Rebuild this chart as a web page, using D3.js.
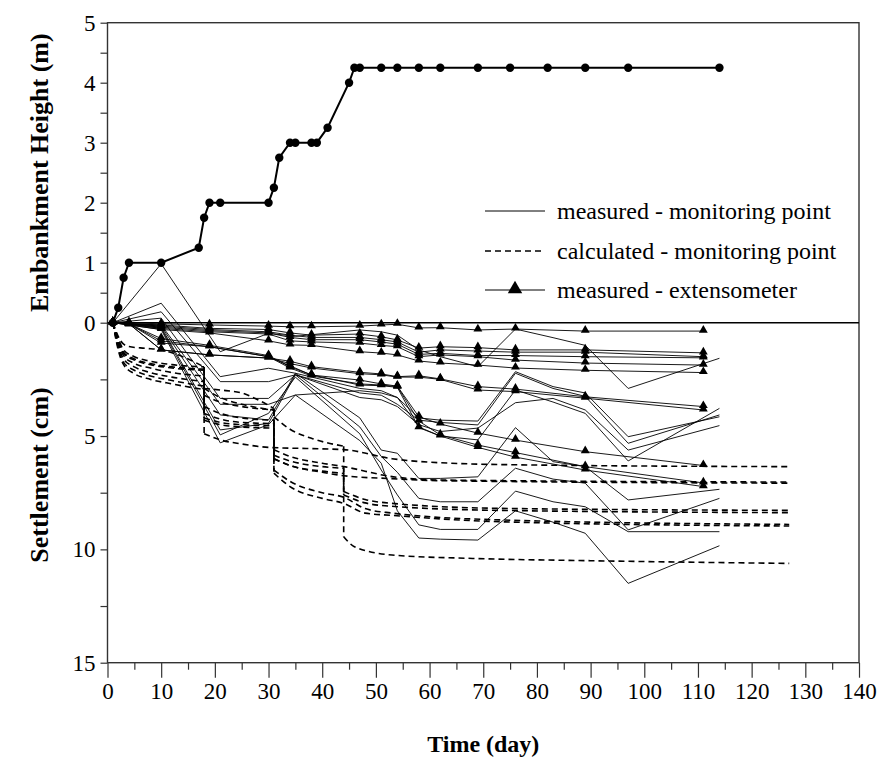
<!DOCTYPE html>
<html>
<head>
<meta charset="utf-8">
<script src="https://d3js.org/d3.v7.min.js"></script>
<style>
  body { margin: 0; background: #fff; }
</style>
</head>
<body>
<script>
// ---- embankment height (m) ----
const fillDays   = [1,2,3,4,10,17,18,19,21,30,31,32,34,35,38,39,41,45,46,47,51,54,58,62,69,75,82,89,97,114];
const fillHeight = [0,0.25,0.75,1,1,1.25,1.75,2,2,2,2.25,2.75,3,3,3,3,3.25,4,4.25,4.25,4.25,4.25,4.25,4.25,4.25,4.25,4.25,4.25,4.25,4.25];

// ---- measured settlement at monitoring points (cm) ----
const pointDays = [1,10,21,30,35,47,51,54,58,62,69,76,83,89,97,114];
const pointA  = [0,-2.6,1.28,0.47,0.6,0.32,0.4,0.55,1.2,1.5,1.94,0.28,0.66,1.0,2.9,1.57];
const pointM1 = [0,-0.86,2.38,2.01,2.23,2.9,3.0,3.3,4.2,4.3,4.34,2.16,2.82,3.1,5.03,4.15];
const pointM2 = [0,-0.48,2.6,2.6,2.3,3.1,3.2,3.6,4.3,4.4,4.51,2.23,2.9,3.25,5.32,4.07];
const pointM3 = [0,-0.2,3.34,3.34,2.3,3.3,3.4,3.7,4.5,4.8,4.65,3.53,3.34,3.85,5.62,4.54];
const pointM4 = [0,0.1,3.6,3.6,3.19,3.0,3.1,3.3,4.6,5.0,5.17,2.97,3.5,4.0,6.1,3.78];
const pointB1 = [0,0.15,4.07,4.29,2.23,4.2,5.62,5.76,6.87,6.87,6.8,4.63,6.13,6.35,7.82,7.35];
const pointB2 = [0,0.2,4.73,4.44,2.3,4.6,5.9,6.6,7.75,7.9,7.9,6.42,6.9,7.08,9.14,7.75];
const pointB3 = [0,0.25,4.95,4.0,2.4,4.9,6.5,7.6,8.92,9.12,9.12,7.43,7.9,8.12,9.22,9.22];
const pointB4 = [0,0.3,5.3,4.5,3.19,5.2,6.2,8.3,9.5,9.55,9.59,8.3,8.8,9.29,11.5,9.84];
const measured = [pointA, pointM1, pointM2, pointM3, pointM4, pointB1, pointB2, pointB3, pointB4];

// ---- measured settlement by extensometer (cm) ----
const extDays = [1,4,10,19,30,34,38,47,51,54,58,62,69,76,89,111];
const ext1  = [0,0,0.05,0.1,0.15,0.18,0.18,0.15,0.1,0.07,0.23,0.22,0.32,0.28,0.37,0.37];
const ext2  = [0,0.05,0.1,0.25,0.3,0.45,0.55,0.5,0.62,0.76,1.12,1.06,1.1,1.2,1.2,1.33];
const ext3  = [0,0.05,0.15,0.3,0.4,0.55,0.65,0.65,0.75,0.85,1.3,1.2,1.25,1.3,1.3,1.5];
const ext4  = [0,0.05,0.2,0.35,0.45,0.65,0.75,0.75,0.85,0.95,1.4,1.35,1.45,1.45,1.5,1.55];
const ext5  = [0,0.05,0.25,0.4,0.5,0.8,0.85,0.9,1.0,1.06,1.5,1.42,1.5,1.65,1.78,1.87];
const ext6  = [0,0.1,0.3,0.45,0.8,0.98,1.0,1.28,1.34,1.42,1.69,1.78,1.87,2.0,2.1,2.2];
const ext7  = [0,0.05,1.2,1.42,1.56,1.7,1.94,2.19,2.26,2.38,2.34,2.48,2.82,2.93,3.27,3.7];
const ext8  = [0,0.05,1.2,1.42,1.56,1.8,2.0,2.25,2.3,2.4,2.4,2.5,2.97,3.04,3.33,3.85];
const ext9  = [0,0.05,0.9,1.06,1.5,1.9,2.31,2.53,2.7,2.8,4.15,4.47,4.87,5.18,5.69,6.3];
const ext10 = [0,0.05,0.8,1.06,1.5,2.0,2.35,2.7,2.75,2.82,4.34,4.95,5.4,5.73,6.35,7.07];
const ext11 = [0,0.05,0.7,1.0,1.45,1.95,2.3,2.75,2.78,2.85,4.63,5.0,5.5,5.93,6.5,7.23];
const extensometers = [ext1, ext2, ext3, ext4, ext5, ext6, ext7, ext8, ext9, ext10, ext11];

// ---- calculated settlement (cm), pieces split at the load steps: [day, cm] ----
const calc1 = [[[1,0],[2,0.6],[3,0.95],[4,1.05],[7,1.13],[10,1.2],[14,1.5],[18,1.95]],
               [[18,4.9],[21,5.17],[25,5.35],[30,5.5],[37,5.55],[44,5.6],[53,6.0],[64,6.2],[80,6.28],[127,6.35]]];
const calc2 = [[[1,0],[2,0.7],[3,1.2],[5,1.5],[8,1.7],[12,1.85],[18,1.95]],
               [[18,2.9],[21,2.97],[25,3.1],[28,3.4],[31,3.78]],
               [[31,5.6],[34,5.9],[40,6.2],[44,6.35],[53,6.79],[62,6.94],[127,7.03]]];
const calc3 = [[[1,0],[2,0.8],[3,1.35],[5,1.65],[8,1.85],[12,2.0],[18,2.1]],
               [[18,3.2],[21,3.5],[25,3.7],[31,3.85]],
               [[31,6.0],[34,6.3],[40,6.6],[44,6.75],[53,6.88],[62,6.97],[127,7.08]]];
const calc4 = [[[1,0],[2,0.9],[3,1.45],[5,1.8],[8,2.0],[12,2.2],[18,2.35]],
               [[18,3.7],[21,4.0],[25,4.2],[31,4.3]],
               [[31,5.85],[34,6.1],[40,6.35],[44,6.42]],
               [[44,7.45],[48,7.8],[53,7.97],[73,8.19],[127,8.28]]];
const calc5 = [[[1,0],[2,1.0],[3,1.6],[5,1.95],[8,2.2],[12,2.4],[18,2.6]],
               [[18,4.0],[21,4.25],[25,4.4],[31,4.45]],
               [[31,6.0],[34,6.3],[40,6.55],[44,6.65]],
               [[44,7.6],[48,7.95],[53,8.1],[73,8.28],[127,8.38]]];
const calc6 = [[[1,0],[2,1.1],[3,1.75],[5,2.1],[8,2.35],[12,2.55],[18,2.8]],
               [[18,4.2],[21,4.4],[25,4.5],[31,4.55]],
               [[31,6.64],[34,7.23],[40,7.75],[44,7.97],[48,8.4],[53,8.5],[73,8.78],[127,8.97]]];
const calc7 = [[[1,0],[2,1.2],[3,1.85],[5,2.25],[8,2.5],[12,2.7],[18,2.95]],
               [[18,4.3],[21,4.5],[25,4.6],[31,4.65]],
               [[31,6.5],[34,7.0],[40,7.5],[44,7.7],[48,8.2],[53,8.4],[73,8.7],[127,8.9]]];
const calc8 = [[[1,0],[2,0.8],[3,1.3],[5,1.6],[8,1.8],[12,1.95],[18,2.05]],
               [[18,2.9],[21,3.3],[25,3.6],[31,3.85]],
               [[31,4.15],[34,4.7],[38,5.1],[44,5.45]],
               [[44,9.44],[46,9.88],[53,10.25],[68,10.4],[90,10.5],[127,10.62]]];
const calculated = [calc1, calc2, calc3, calc4, calc5, calc6, calc7, calc8];

const legendLabels = ["measured - monitoring point", "calculated - monitoring point", "measured - extensometer"];

// ---- layout ----
const width = 882, height = 763;
const plotL = 107.5, plotR = 859, plotT = 22.7, zeroY = 322.7, plotB = 662.7;
const serif = '"Liberation Serif", "Times New Roman", Times, serif';

const svg = d3.select("body").append("svg").attr("width", width).attr("height", height)
  .style("font-family", serif);

const x = d3.scaleLinear().domain([0, 140]).range([plotL, plotR]);
const yH = d3.scaleLinear().domain([0, 5]).range([zeroY, plotT]);    // embankment (m)
const yS = d3.scaleLinear().domain([0, 15]).range([zeroY, plotB]);   // settlement (cm)

const intFmt = d => Number.isInteger(d) ? d : "";

// upper y axis
const axH = svg.append("g").attr("transform", `translate(${plotL},0)`)
  .call(d3.axisLeft(yH).tickValues(d3.range(0, 5.01, 0.5)).tickSize(7).tickPadding(5).tickFormat(intFmt));
// lower y axis
const axS = svg.append("g").attr("transform", `translate(${plotL},0)`)
  .call(d3.axisLeft(yS).tickValues([2.5, 5, 7.5, 10, 12.5, 15]).tickSize(7).tickPadding(5).tickFormat(intFmt));
// bottom axis, major + minor ticks
const axX = svg.append("g").attr("transform", `translate(0,${plotB})`)
  .call(d3.axisBottom(x).tickValues(d3.range(0, 141, 10)).tickSize(15).tickPadding(5));
const axXm = svg.append("g").attr("transform", `translate(0,${plotB})`)
  .call(d3.axisBottom(x).tickValues(d3.range(5, 140, 10)).tickSize(7).tickFormat(""));

[axH, axS, axX, axXm].forEach(g => {
  g.attr("font-family", null).attr("font-size", null);
  g.select(".domain").remove();
  g.selectAll("line").attr("stroke", "#333").attr("stroke-width", 1.2);
  g.selectAll("text").style("font-family", serif).style("font-size", "23px");
});

// frame and zero line
svg.append("rect").attr("x", plotL).attr("y", plotT)
  .attr("width", plotR - plotL).attr("height", plotB - plotT)
  .attr("fill", "none").attr("stroke", "#333").attr("stroke-width", 1.4);
svg.append("line").attr("x1", plotL).attr("x2", plotR).attr("y1", zeroY).attr("y2", zeroY)
  .attr("stroke", "#000").attr("stroke-width", 1.4);

// calculated (dashed)
const pieceLine = d3.line().x(d => x(d[0])).y(d => yS(d[1])).curve(d3.curveMonotoneX);
const stepLine = d3.line().x(d => x(d[0])).y(d => yS(d[1]));
calculated.forEach(pieces => {
  pieces.forEach((p, i) => {
    svg.append("path").attr("d", pieceLine(p))
      .attr("fill", "none").attr("stroke", "#000").attr("stroke-width", 1.6).attr("stroke-dasharray", "6,4");
    if (i > 0) {
      const prev = pieces[i - 1];
      svg.append("path").attr("d", stepLine([prev[prev.length - 1], p[0]]))
        .attr("fill", "none").attr("stroke", "#000").attr("stroke-width", 1.6).attr("stroke-dasharray", "6,4");
    }
  });
});

// measured at monitoring points (thin solid)
const mLine = d3.line().x((d, i) => x(pointDays[i])).y(d => yS(d));
measured.forEach(s => {
  svg.append("path").attr("d", mLine(s)).attr("fill", "none").attr("stroke", "#000").attr("stroke-width", 0.9);
});

// extensometers (solid with triangles)
const eLine = d3.line().x((d, i) => x(extDays[i])).y(d => yS(d));
const tri = d3.symbol().type(d3.symbolTriangle).size(34);
extensometers.forEach(s => {
  svg.append("path").attr("d", eLine(s)).attr("fill", "none").attr("stroke", "#000").attr("stroke-width", 0.9);
  svg.append("g").selectAll("path").data(s).join("path")
    .attr("d", tri)
    .attr("transform", (d, i) => `translate(${x(extDays[i])},${yS(d) - 1})`)
    .attr("fill", "#000");
});

// embankment height
const hLine = d3.line().x((d, i) => x(fillDays[i])).y(d => yH(d));
svg.append("path").attr("d", hLine(fillHeight)).attr("fill", "none").attr("stroke", "#000").attr("stroke-width", 2);
svg.append("g").selectAll("circle").data(fillHeight).join("circle")
  .attr("cx", (d, i) => x(fillDays[i])).attr("cy", d => yH(d)).attr("r", 4.2).attr("fill", "#000");

// legend
const legend = svg.append("g");
const legY = [211, 251, 290];
legendLabels.forEach((t, i) => {
  const ln = legend.append("line").attr("x1", 485).attr("x2", 545).attr("y1", legY[i]).attr("y2", legY[i])
    .attr("stroke", "#000").attr("stroke-width", i === 1 ? 1.6 : 1);
  if (i === 1) ln.attr("stroke-dasharray", "6,4");
  if (i === 2) legend.append("path").attr("d", d3.symbol().type(d3.symbolTriangle).size(90))
    .attr("transform", `translate(515,${legY[i] - 1})`).attr("fill", "#000");
  legend.append("text").attr("x", 557).attr("y", legY[i]).attr("dy", "0.33em")
    .style("font-family", serif).style("font-size", "24px").text(t);
});

// axis titles
svg.append("text").attr("transform", `translate(48,${(plotT + zeroY) / 2}) rotate(-90)`)
  .attr("text-anchor", "middle").style("font-family", serif).style("font-size", "26px").style("font-weight", "bold")
  .text("Embankment Height (m)");
svg.append("text").attr("transform", `translate(48,475) rotate(-90)`)
  .attr("text-anchor", "middle").style("font-family", serif).style("font-size", "26px").style("font-weight", "bold")
  .text("Settlement (cm)");
svg.append("text").attr("x", (plotL + plotR) / 2).attr("y", 752)
  .attr("text-anchor", "middle").style("font-family", serif).style("font-size", "24px").style("font-weight", "bold")
  .text("Time (day)");
</script>
</body>
</html>
